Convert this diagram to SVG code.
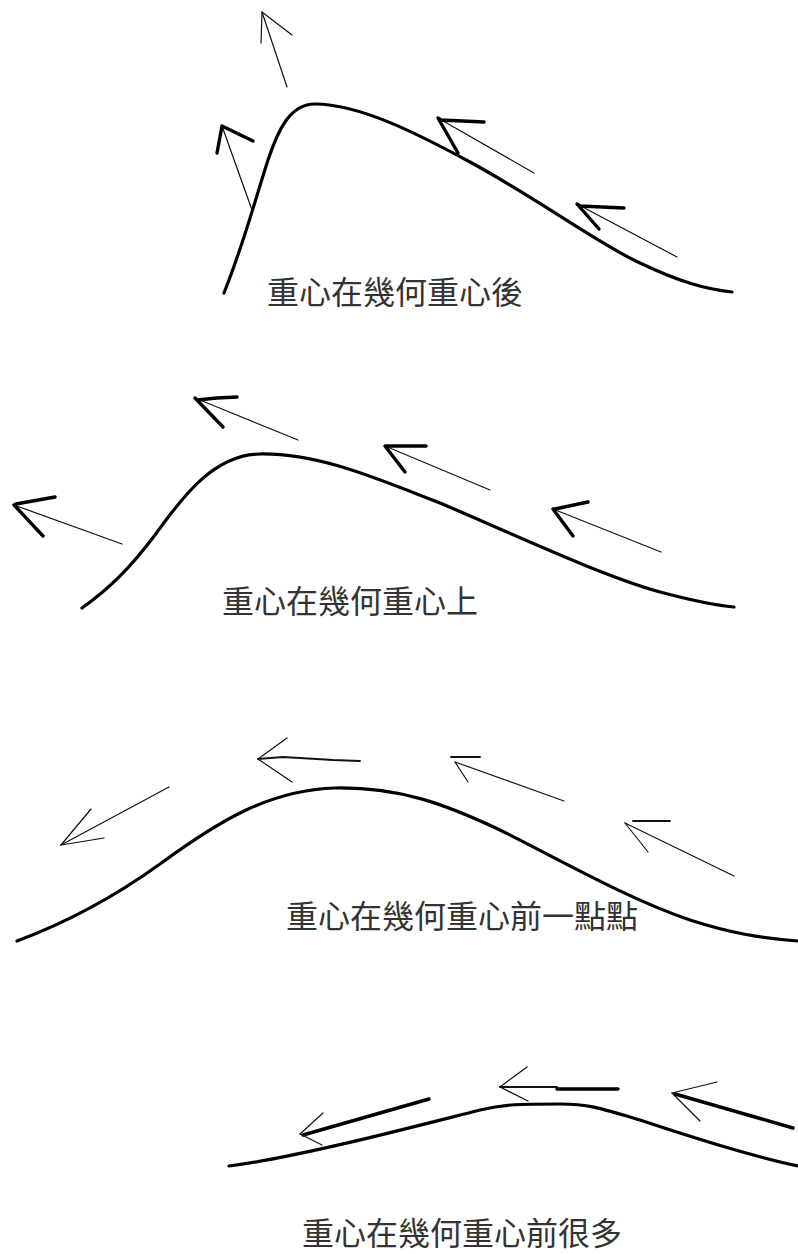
<svg xmlns="http://www.w3.org/2000/svg" width="798" height="1254" viewBox="0 0 798 1254">
  <style>
    .curve { fill: none; stroke: #000; stroke-width: 3.2; stroke-linejoin: round; stroke-linecap: round; }
    .thin { fill: none; stroke: #111; stroke-width: 1.2; stroke-linecap: round; }
    .mid { fill: none; stroke: #111; stroke-width: 1.8; stroke-linecap: round; }
    .thick { fill: none; stroke: #000; stroke-width: 3.4; stroke-linecap: round; stroke-linejoin: round; }
    .label { font-family: "Noto Sans CJK TC", "Noto Sans CJK SC", sans-serif; font-size: 32px; fill: #333; }
  </style>
  <rect width="798" height="1254" fill="#fff"/>

  <!-- Panel 1: centre of gravity behind the geometric centre -->
  <g id="panel-behind">
    <path class="curve" d="M224,293 C245,240 255,200 268,160 C278,130 290,104 315,104 C360,104 420,135 470,162 C540,200 600,245 640,263 C680,282 705,289 732,292"/>
    <g id="p1-arrows">
      <line class="thin" x1="287" y1="87" x2="262" y2="12"/>
      <line class="thin" x1="262" y1="12" x2="261" y2="43"/>
      <line class="thin" x1="262" y1="12" x2="292" y2="35"/>

      <line class="thin" x1="252" y1="210" x2="222" y2="126"/>
      <polyline class="thick" points="217,153 222,126 253,141"/>

      <line class="thin" x1="534" y1="173" x2="438" y2="118"/>
      <polyline class="thick" points="458,153 438,118 441,120 484,122"/>

      <line class="thin" x1="677" y1="257" x2="577" y2="204"/>
      <polyline class="thick" points="599,229 577,204 580,206 624,208"/>
    </g>
    <text class="label" x="267" y="304">重心在幾何重心後</text>
  </g>

  <!-- Panel 2: centre of gravity on the geometric centre -->
  <g id="panel-on">
    <path class="curve" d="M82,608 C110,588 130,568 155,535 C185,493 215,455 260,454 C320,453 380,480 440,503 C520,537 600,575 660,592 C690,600 712,605 734,607"/>
    <g id="p2-arrows">
      <line class="thin" x1="298" y1="440" x2="195" y2="398"/>
      <polyline class="thick" points="223,427 195,398 197,400 217,398 237,397"/>

      <line class="thin" x1="122" y1="544" x2="14" y2="505"/>
      <polyline class="thick" points="43,536 14,505 16,504 55,497"/>

      <line class="thin" x1="490" y1="490" x2="385" y2="446"/>
      <polyline class="thick" points="405,472 385,446 387,446 426,446"/>

      <line class="thin" x1="661" y1="552" x2="553" y2="509"/>
      <polyline class="thick" points="573,536 553,509 555,509 588,502"/>
    </g>
    <text class="label" x="222" y="613">重心在幾何重心上</text>
  </g>

  <!-- Panel 3: centre of gravity slightly ahead -->
  <g id="panel-slightly-ahead">
    <path class="curve" d="M17,941 C60,925 110,900 160,864 C220,820 270,790 335,788 C400,787 445,804 500,830 C560,860 630,900 690,920 C730,933 760,938 798,941"/>
    <g id="p3-arrows">
      <polyline class="mid" points="360,761 333,760 283,757 258,759"/>
      <line class="thin" x1="258" y1="759" x2="287" y2="738"/>
      <line class="thin" x1="258" y1="759" x2="292" y2="782"/>

      <line class="thin" x1="169" y1="787" x2="61" y2="845"/>
      <line class="thin" x1="61" y1="845" x2="91" y2="809"/>
      <line class="thin" x1="61" y1="845" x2="104" y2="838"/>

      <line class="thin" x1="564" y1="801" x2="455" y2="762"/>
      <line class="mid" x1="451" y1="757" x2="480" y2="757"/>
      <line class="thin" x1="455" y1="762" x2="468" y2="782"/>

      <line class="thin" x1="734" y1="876" x2="625" y2="823"/>
      <line class="mid" x1="633" y1="821" x2="670" y2="821"/>
      <line class="thin" x1="625" y1="823" x2="648" y2="852"/>
    </g>
    <text class="label" x="286" y="928">重心在幾何重心前一點點</text>
  </g>

  <!-- Panel 4: centre of gravity far ahead -->
  <g id="panel-far-ahead">
    <path class="curve" d="M229,1166 C300,1157 420,1125 480,1110 C505,1104 520,1104 560,1104 C588,1104 600,1108 640,1120 C700,1140 760,1158 798,1166"/>
    <g id="p4-arrows">
      <line class="thick" x1="429" y1="1099" x2="303" y2="1135"/>
      <line class="thin" x1="300" y1="1134" x2="323" y2="1113"/>
      <line class="thin" x1="300" y1="1134" x2="322" y2="1145"/>

      <line class="mid" x1="500" y1="1087" x2="557" y2="1087"/>
      <line class="thick" x1="557" y1="1089" x2="618" y2="1089"/>
      <line class="thin" x1="500" y1="1087" x2="527" y2="1067"/>
      <line class="thin" x1="500" y1="1087" x2="528" y2="1101"/>

      <line class="thick" x1="675" y1="1094" x2="793" y2="1128"/>
      <line class="thin" x1="672" y1="1093" x2="717" y2="1082"/>
      <line class="thin" x1="672" y1="1093" x2="700" y2="1121"/>
    </g>
    <text class="label" x="302" y="1245">重心在幾何重心前很多</text>
  </g>
</svg>
